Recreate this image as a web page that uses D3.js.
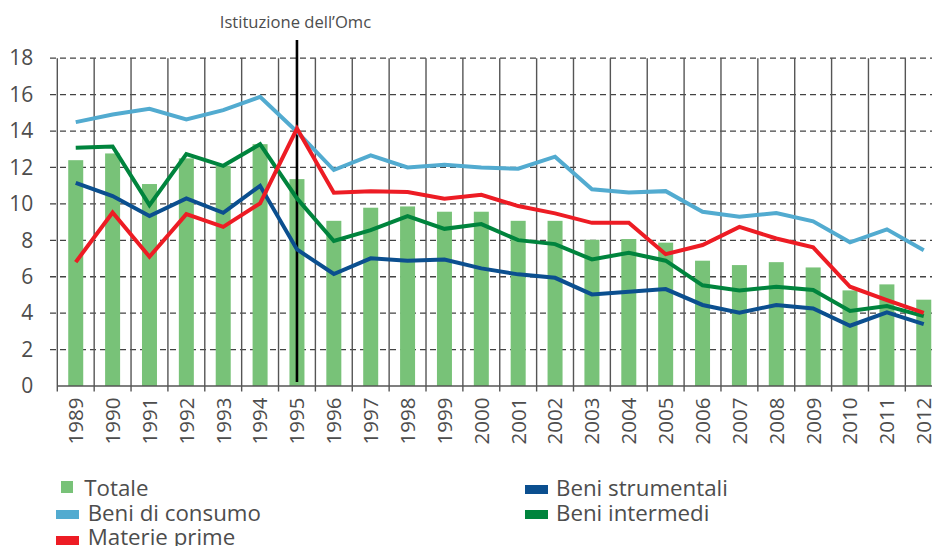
<!DOCTYPE html>
<html>
<head>
<meta charset="utf-8">
<script src="https://cdn.jsdelivr.net/npm/d3@7"></script>
<style>
  body { margin: 0; background: #fff; }
  svg { display: block; font-family: 'Open Sans', sans-serif; }
</style>
</head>
<body>
<div id="graph"></div>
<script>
  const years = ['1989','1990','1991','1992','1993','1994','1995','1996','1997','1998','1999','2000',
                 '2001','2002','2003','2004','2005','2006','2007','2008','2009','2010','2011','2012'];
  const totale = [12.4, 12.77, 11.09, 12.5, 12.1, 13.28, 11.36, 9.07, 9.79, 9.86, 9.57, 9.57,
                  9.07, 9.07, 8.03, 8.07, 7.87, 6.88, 6.64, 6.8, 6.51, 5.25, 5.58, 4.74];
  const beniConsumo = [14.49, 14.91, 15.22, 14.64, 15.15, 15.88, 13.96, 11.86, 12.66, 12.0, 12.15, 12.0,
                       11.93, 12.59, 10.8, 10.63, 10.7, 9.57, 9.29, 9.5, 9.04, 7.89, 8.6, 7.45];
  const beniStrumentali = [11.16, 10.43, 9.33, 10.3, 9.51, 10.99, 7.5, 6.15, 7.01, 6.88, 6.95, 6.46,
                           6.13, 5.94, 5.03, 5.18, 5.32, 4.45, 4.02, 4.45, 4.26, 3.31, 4.04, 3.4];
  const beniIntermedi = [13.08, 13.15, 9.93, 12.73, 12.09, 13.28, 10.3, 7.96, 8.56, 9.33, 8.63, 8.89,
                         8.01, 7.79, 6.95, 7.32, 6.88, 5.53, 5.25, 5.45, 5.27, 4.12, 4.39, 3.84];
  const materiePrime = [6.8, 9.53, 7.1, 9.44, 8.74, 10.03, 14.14, 10.61, 10.7, 10.65, 10.28, 10.5,
                        9.88, 9.48, 8.96, 8.96, 7.24, 7.74, 8.74, 8.1, 7.61, 5.45, 4.72, 4.02];
  const yTicks = [0, 2, 4, 6, 8, 10, 12, 14, 16, 18];
  const markerYear = '1995';
  const markerLabel = 'Istituzione dell\u2019Omc';

  const colors = {
    totale: '#78c278',
    consumo: '#52abd0',
    strumentali: '#0b4f8f',
    intermedi: '#00843d',
    prime: '#ed1c24'
  };
  const textColor = '#4d4d4d';

  //sizing
  const width = 932;
  const height = 546;
  const plotLeft = 57.3;
  const plotRight = 942.2;
  const plotTop = 58.2;
  const plotBottom = 386;

  //scales
  const xScale = d3.scaleBand().domain(years).range([plotLeft, plotRight]).padding(0);
  const yScale = d3.scaleLinear().domain([0, 18]).range([plotBottom, plotTop]);
  const cx = (y) => xScale(y) + xScale.bandwidth() / 2;

  const svg = d3.select('#graph')
              .append('svg')
              .attr('width', width)
              .attr('height', height);

  //horizontal dashed grid
  svg.append('g')
     .selectAll('line')
     .data(yTicks.filter((t) => t > 0))
     .enter()
     .append('line')
     .attr('x1', 50)
     .attr('x2', width)
     .attr('y1', (d) => yScale(d))
     .attr('y2', (d) => yScale(d))
     .attr('stroke', '#444')
     .attr('stroke-width', 1.3)
     .attr('stroke-dasharray', '6,4');

  //vertical grid + ticks
  svg.append('g')
     .selectAll('line')
     .data(years.concat(['end']))
     .enter()
     .append('line')
     .attr('x1', (d, i) => plotLeft + i * xScale.bandwidth())
     .attr('x2', (d, i) => plotLeft + i * xScale.bandwidth())
     .attr('y1', plotTop)
     .attr('y2', plotBottom + 5.5)
     .attr('stroke', '#555')
     .attr('stroke-width', 1.4);

  //bars
  const barWidth = 15;
  svg.append('g')
     .selectAll('rect')
     .data(years)
     .enter()
     .append('rect')
     .attr('x', (d) => cx(d) - barWidth / 2)
     .attr('y', (d, i) => yScale(totale[i]))
     .attr('width', barWidth)
     .attr('height', (d, i) => plotBottom - yScale(totale[i]))
     .attr('fill', colors.totale);

  //x axis line
  svg.append('line')
     .attr('x1', plotLeft)
     .attr('x2', plotRight)
     .attr('y1', plotBottom)
     .attr('y2', plotBottom)
     .attr('stroke', '#555')
     .attr('stroke-width', 1.4);

  //marker line for 1995
  svg.append('line')
     .attr('x1', cx(markerYear))
     .attr('x2', cx(markerYear))
     .attr('y1', 40)
     .attr('y2', 382)
     .attr('stroke', '#000')
     .attr('stroke-width', 2.6);

  svg.append('text')
     .attr('x', cx(markerYear) - 1.5)
     .attr('y', 28.3)
     .attr('text-anchor', 'middle')
     .attr('font-size', '16.6px')
     .attr('fill', textColor)
     .text(markerLabel);

  //lines
  const series = [
    { values: beniConsumo, color: colors.consumo },
    { values: beniStrumentali, color: colors.strumentali },
    { values: beniIntermedi, color: colors.intermedi },
    { values: materiePrime, color: colors.prime }
  ];
  const line = d3.line()
                 .x((d, i) => cx(years[i]))
                 .y((d) => yScale(d));
  series.forEach((s) => {
    svg.append('path')
       .attr('d', line(s.values))
       .attr('fill', 'none')
       .attr('stroke', s.color)
       .attr('stroke-width', 4)
       .attr('stroke-linejoin', 'miter');
  });

  //axes labels
  const yAxis = d3.axisLeft(yScale).tickValues(yTicks).tickSize(0).tickPadding(24);
  const gy = svg.append('g')
     .attr('transform', 'translate(' + plotLeft + ',0)')
     .call(yAxis);
  gy.select('.domain').remove();
  gy.selectAll('text')
    .attr('font-size', '21px')
    .attr('font-family', "'Open Sans', sans-serif")
    .attr('fill', textColor);

  svg.append('g')
     .selectAll('text')
     .data(years)
     .enter()
     .append('text')
     .attr('transform', (d) => 'translate(' + cx(d) + ',397.5) rotate(-90)')
     .attr('text-anchor', 'end')
     .attr('dy', '0.36em')
     .attr('font-size', '20.5px')
     .attr('fill', textColor)
     .text((d) => d);

  //legend
  const legend = [
    { label: 'Totale', color: colors.totale, rx: 61, ry: 481, rw: 12, rh: 12, tx: 84.3, ty: 495.8 },
    { label: 'Beni di consumo', color: colors.consumo, rx: 56, ry: 510, rw: 23, rh: 9, tx: 87.7, ty: 520.7 },
    { label: 'Materie prime', color: colors.prime, rx: 56, ry: 536, rw: 23, rh: 9, tx: 87.7, ty: 544.5 },
    { label: 'Beni strumentali', color: colors.strumentali, rx: 525, ry: 485, rw: 23, rh: 9, tx: 556, ty: 495.6 },
    { label: 'Beni intermedi', color: colors.intermedi, rx: 525, ry: 510, rw: 23, rh: 9, tx: 556, ty: 520.7 }
  ];
  const lg = svg.append('g');
  legend.forEach((l) => {
    lg.append('rect')
      .attr('x', l.rx).attr('y', l.ry)
      .attr('width', l.rw).attr('height', l.rh)
      .attr('fill', l.color);
    lg.append('text')
      .attr('x', l.tx).attr('y', l.ty)
      .attr('font-size', '22.3px')
      .attr('fill', textColor)
      .text(l.label);
  });
</script>
</body>
</html>
